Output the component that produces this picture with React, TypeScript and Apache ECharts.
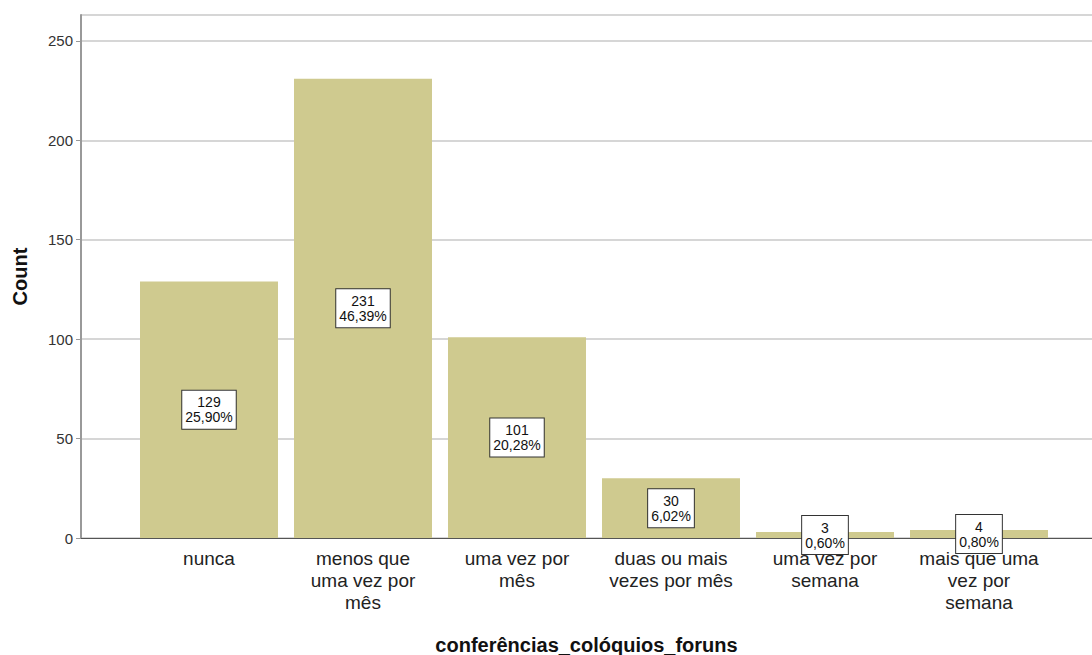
import React, { useEffect, useRef } from "react";
import * as echarts from "echarts";

const categories = [
  "nunca",
  "menos que\numa vez por\nmês",
  "uma vez por\nmês",
  "duas ou mais\nvezes por mês",
  "uma vez por\nsemana",
  "mais que uma\nvez por\nsemana",
];
const counts = [129, 231, 101, 30, 3, 4];
const percents = ["25,90%", "46,39%", "20,28%", "6,02%", "0,60%", "0,80%"];
const yTicks = [0, 50, 100, 150, 200, 250];
const yMax = 263;

const FONT = "'Liberation Sans', Arial, sans-serif";

export default function App() {
  const ref = useRef<HTMLDivElement>(null);
  useEffect(() => {
    const chart = echarts.init(ref.current!, null, { renderer: "svg" });
    chart.setOption({
      animation: false,
      textStyle: { fontFamily: FONT },
      grid: [
        { left: 81, right: 0, top: 15, bottom: 117, outerBoundsMode: "none", containLabel: false },
        { left: 132, right: 36, top: 15, bottom: 117, outerBoundsMode: "none", containLabel: false },
      ],
      xAxis: [
        {
          gridIndex: 0,
          type: "value",
          min: 0,
          max: 1,
          axisLine: { show: true, lineStyle: { color: "#555", width: 1 } },
          axisTick: { show: false },
          axisLabel: { show: false },
          splitLine: { show: false },
          name: "conferências_colóquios_foruns",
          nameLocation: "middle",
          nameGap: 97,
          nameTextStyle: { fontSize: 20, fontWeight: "bold", color: "#111", fontFamily: FONT },
        },
        {
          gridIndex: 1,
          type: "category",
          data: categories,
          axisLine: { show: false },
          axisTick: { show: false },
          axisLabel: {
            interval: 0,
            fontSize: 19,
            lineHeight: 22,
            color: "#222",
            margin: 9,
            fontFamily: FONT,
          },
        },
      ],
      yAxis: [
        {
          gridIndex: 0,
          type: "value",
          min: 0,
          max: yMax,
          interval: 50,
          axisLine: { show: true, lineStyle: { color: "#999", width: 2 } },
          axisTick: { show: true, length: 5, lineStyle: { color: "#999" } },
          axisLabel: {
            fontSize: 15,
            color: "#333",
            margin: 8,
            showMaxLabel: false,
            fontFamily: FONT,
            formatter: (v: number) => (yTicks.includes(v) ? String(v) : ""),
          },
          splitLine: { show: true, lineStyle: { color: "#c8c8c8", width: 1.5 } },
          name: "Count",
          nameLocation: "middle",
          nameGap: 51,
          nameTextStyle: { fontSize: 20, fontWeight: "bold", color: "#111", fontFamily: FONT },
        },
        {
          gridIndex: 1,
          type: "value",
          min: 0,
          max: yMax,
          show: false,
        },
      ],
      series: [
        {
          type: "bar",
          xAxisIndex: 1,
          yAxisIndex: 1,
          data: counts,
          barCategoryGap: "10.4%",
          itemStyle: { color: "#cfca8f" },
          label: {
            show: true,
            position: "inside",
            formatter: (p: any) => `${p.value}\n${percents[p.dataIndex]}`,
            backgroundColor: "#fff",
            borderColor: "#333",
            borderWidth: 1,
            padding: [4, 3, 4, 3],
            fontSize: 14,
            lineHeight: 15,
            color: "#111",
            fontFamily: FONT,
          },
        },
      ],
    });
    return () => chart.dispose();
  }, []);
  return (
    <div
      ref={ref}
      style={{ position: "fixed", left: 0, top: 0, width: 1092, height: 655, background: "#fff" }}
    />
  );
}
